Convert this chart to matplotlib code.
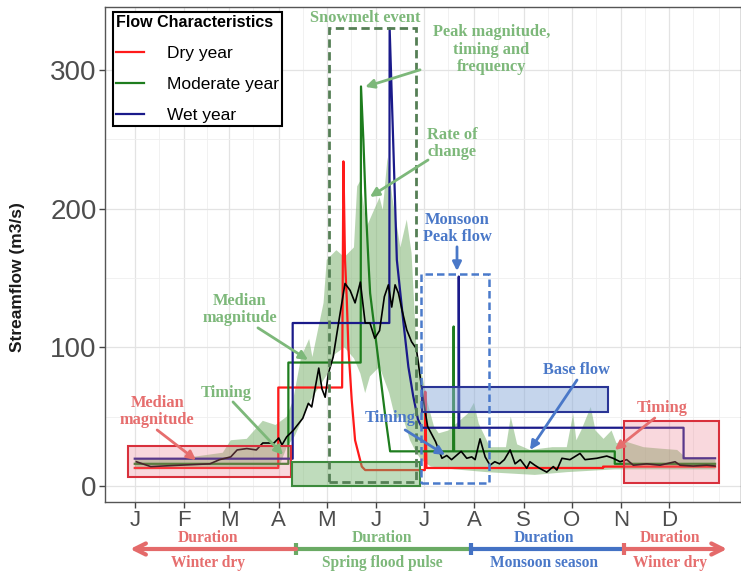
import matplotlib
matplotlib.use('Agg')
import matplotlib.pyplot as plt
import matplotlib.transforms as mtransforms
from matplotlib.patches import Rectangle
from matplotlib.lines import Line2D
import numpy as np

plt.rcParams['font.family'] = ['Liberation Sans', 'DejaVu Sans']

# month axis, day of year
months = ['J', 'F', 'M', 'A', 'M', 'J', 'J', 'A', 'S', 'O', 'N', 'D']
month_start = [0, 31, 59, 90, 120, 151, 181, 212, 243, 273, 304, 334]

# median daily streamflow (black line)
median_day = [1, 10, 28, 47, 53, 60, 64, 70, 76, 80,
              87, 90, 92, 95, 99, 105, 108.5, 110.6, 115, 117,
              119, 121, 124, 128, 131.4, 134.6, 137.7, 141, 144, 147,
              150, 153, 156, 158.5, 160.6, 162.7, 164.8, 167, 170, 173,
              176, 180, 183, 188, 192, 195, 198, 201, 204, 207.5,
              210.6, 212.7, 215.8, 219, 222, 225, 228, 231, 234.6, 237.7,
              241, 245, 247, 250, 253, 257.5, 261.6, 263.8, 267, 272,
              278.3, 281.4, 288.8, 295, 299, 303.3, 307.5, 311.6, 320, 328.3,
              337.7, 340.8, 349, 357.5, 362.7]
median_flow = [17.5, 14, 15, 16, 19, 21, 26, 27, 26, 31,
               31, 34.6, 29.6, 35.5, 40, 48.8, 59.6, 57, 85, 70,
               64, 81, 93, 122, 146, 141, 132, 147, 117.5, 117.5,
               106.5, 112, 136.5, 145, 129, 145, 139, 127, 112.5, 104,
               99, 65, 43, 32, 20, 22, 19, 22, 25, 20,
               21, 19, 34, 21, 15, 17.5, 16, 19, 26, 16,
               19, 12.8, 17.5, 15, 12.8, 10, 14, 11.5, 20, 19,
               23.5, 19, 20, 21.6, 20, 17.5, 19, 15, 16, 15,
               17.5, 15, 14.4, 15, 14.4]

# range of daily flows (green ribbon)
band_hi_day = [0, 30, 55, 60, 70, 80, 88, 95, 99, 104,
               109, 111, 118, 120, 126, 131, 137, 139, 141, 145,
               153, 155, 158, 161, 166, 170, 173, 176, 180, 183,
               187, 190, 196, 208, 212, 215, 222, 232, 235, 239,
               247, 261, 270, 274, 276, 279, 285, 288, 293, 298,
               301, 307, 318, 328, 339, 345, 363]
band_hi = [20, 20, 24, 33, 34, 47, 44, 50, 62, 93,
           106, 93, 132, 163, 170, 165, 172, 216, 220, 187,
           208, 199, 237, 208, 172, 192, 168, 100, 78, 60,
           43, 38, 40, 52, 60, 45, 28, 28, 50, 30,
           26, 28, 28, 52, 33, 40, 57, 40, 34, 40,
           31, 32, 28, 27, 26, 20, 19]
band_lo_day = [0, 90, 95, 100, 110, 120, 125, 131, 137, 141, 144, 147, 153, 159,
               163, 167, 172, 176, 179, 185, 200, 220, 250, 270, 300, 330, 363]
band_lo = [12, 13, 28, 36, 62, 80, 95, 100, 92, 81, 67, 79, 86, 67,
           48, 52, 33, 24, 19, 14, 12, 10, 8, 10, 12, 12, 12]

# dry year
dry_day = [0, 89.7, 89.7, 129.6, 130.4, 131.4, 132.5, 133.5, 135.6, 137.7, 141.9, 144,
           181.3, 181.6, 182.3, 292.7, 292.7, 362.7]
dry_flow = [13, 13, 71, 71, 234, 163, 135, 100, 62, 33, 14, 11.5,
            11.5, 68, 13, 13, 14, 14]

# moderate year
mod_day = [0, 96, 96, 141.2, 141.4, 142.9, 144.4, 146, 147.1, 150.2, 153.3, 156.4, 159.6,
           199, 199.3, 199.6, 300, 300, 362.7]
mod_flow = [16, 16, 89, 89, 288, 249, 201, 163, 139, 110, 81, 52, 25,
            25, 115, 25, 25, 16, 16]

# wet year
wet_day = [0, 98.7, 98.7, 159.1, 159.3, 161.5, 163.8, 167.9, 171, 174, 177, 179.5,
           202.3, 202.5, 202.8, 343, 343, 362.7]
wet_flow = [19.7, 19.7, 117.5, 117.5, 330, 249, 163, 118, 86, 65, 48, 42,
            42, 151, 42, 42, 20, 20]

RED = '#ff1a1a'
GREEN = '#1e7d1e'
NAVY = '#1a1a8a'
T_GREEN = '#7db87a'
T_RED = '#e66e6e'
T_BLUE = '#4a78c8'

fig = plt.figure(figsize=(7.41, 5.75), dpi=100)
ax = fig.add_axes([0.1417, 0.1270, 0.8583, 0.8609])

# ribbon + lines
ax.fill(np.concatenate([band_hi_day, band_lo_day[::-1]]),
        np.concatenate([band_hi, band_lo[::-1]]),
        color='#7fb472', alpha=0.55, lw=0, zorder=1)
ax.plot(dry_day, dry_flow, color=RED, lw=1.6, zorder=3)
ax.plot(mod_day, mod_flow, color=GREEN, lw=1.6, zorder=3)
ax.plot(wet_day, wet_flow, color=NAVY, lw=1.6, zorder=3)
ax.plot(median_day, median_flow, color='black', lw=1.2, zorder=4)


def box(x0, x1, y0, y1, **kw):
    ax.add_patch(Rectangle((x0, y0), x1 - x0, y1 - y0, zorder=5, **kw))


# highlight boxes
box(-4, 97.5, 6.7, 28.8, facecolor=(0.93, 0.5, 0.56, 0.3), edgecolor='#d8303c', lw=1.5)
box(305.8, 365.4, 2.4, 46.9, facecolor=(0.93, 0.5, 0.56, 0.3), edgecolor='#d8303c', lw=1.5)
box(98.1, 178.3, 0, 17, facecolor=(0.45, 0.7, 0.42, 0.45), edgecolor='#3c8a3c', lw=1.5)
box(179.4, 296, 53.6, 71.6, facecolor=(0.55, 0.68, 0.86, 0.5), edgecolor='#2a3596', lw=1.5)
box(121.6, 175.8, 2.7, 330, fill=False, edgecolor='#557f55', lw=2, ls=(0, (3, 1.6)))
box(178.75, 221.6, 2.4, 153, fill=False, edgecolor='#4a7acb', lw=1.8, ls=(0, (3, 1.6)))

# axes styling
ax.set_xlim(-18.6, 378.9)
ax.set_ylim(-11.5, 345.3)
ax.set_xticks(month_start)
ax.set_xticklabels(months)
ax.set_xticks([15, 45, 74, 105, 135, 166, 196, 227, 258, 288, 319, 349, 365], minor=True)
ax.set_yticks([0, 100, 200, 300])
ax.set_yticks([50, 150, 250], minor=True)
ax.grid(which='major', color='#e3e3e3', lw=0.9, zorder=0)
ax.grid(which='minor', color='#efefef', lw=0.6, zorder=0)
ax.set_axisbelow(True)
ax.tick_params(which='major', length=4, width=1, color='#444444', labelcolor='#4d4d4d')
ax.tick_params(axis='x', labelsize=16, pad=2)
ax.tick_params(axis='y', labelsize=20, pad=2)
ax.tick_params(which='minor', length=0)
for s in ax.spines.values():
    s.set_color('#555555')
    s.set_linewidth(1.0)

fig.text(18 / 741, 1 - 277 / 575, 'Streamflow (m3/s)', rotation=90, ha='center', va='center',
         fontsize=12.5, fontweight='bold', color='#1a1a1a')

# legend
handles = [Line2D([], [], color=RED, lw=1.6), Line2D([], [], color=GREEN, lw=1.6),
           Line2D([], [], color=NAVY, lw=1.6)]
leg = ax.legend(handles, ['Dry year', 'Moderate year', 'Wet year'], loc='upper left',
                bbox_to_anchor=(0.0126, 0.99), borderaxespad=0, title='Flow Characteristics',
                fontsize=12.5, title_fontproperties={'weight': 'bold', 'size': 11.5},
                alignment='left', handlelength=1.6, handletextpad=1.3, labelspacing=0.9,
                borderpad=0.2, fancybox=False, framealpha=1, edgecolor='black')
leg.get_frame().set_linewidth(1.5)
leg.set_zorder(10)

# annotations inside the panel
serif = dict(family=['Liberation Serif', 'DejaVu Serif'], fontweight='bold', fontsize=11.8)


def note(txt, xy, xytext, color, tail=None):
    ax.text(xytext[0], xytext[1], txt, color=color, ha='center', va='center',
            linespacing=1.1, zorder=8, **serif)
    if xy is not None:
        ax.annotate('', xy=xy, xytext=tail, zorder=8,
                    arrowprops=dict(arrowstyle='-|>', color=color, lw=2, mutation_scale=13,
                                    shrinkA=0, shrinkB=0))


note('Snowmelt event', None, (144, 337.5), T_GREEN)
note('Peak magnitude,\ntiming and\nfrequency', (144, 287.7), (223, 314.5), T_GREEN, (178.3, 300))
note('Rate of\nchange', (147, 208.4), (198.3, 247), T_GREEN, (183.3, 235))
note('Monsoon\nPeak flow', (201.4, 155), (201.4, 185.5), T_BLUE, (201.4, 172.4))
note('Median\nmagnitude', (108.3, 90.9), (65.8, 127), T_GREEN, (77, 114))
note('Timing', (92.7, 22.4), (57, 67), T_GREEN, (61.4, 60.6))
note('Median\nmagnitude', (38.3, 18.7), (14, 54), T_RED, (14, 40.4))
note('Timing', (194, 22.4), (159.6, 49), T_BLUE, (169, 40.4))
note('Base flow', (247, 26), (276.4, 83.6), T_BLUE, (276.4, 76.4))
note('Timing', (300, 26), (329.6, 56.2), T_RED, (325, 49))

# season bar below the axis
trans = mtransforms.blended_transform_factory(ax.transData, fig.transFigure)
yb = 1 - 549 / 575
yd = 1 - 538.5 / 575
ys = 1 - 563 / 575
B_RED = '#e46a6a'
B_GREEN = '#6aaa64'
B_BLUE = '#4472c4'
ax.annotate('', xy=(-2.9, yb), xytext=(100.8, yb), xycoords=trans, textcoords=trans,
            annotation_clip=False,
            arrowprops=dict(arrowstyle='->', color=B_RED, lw=3, mutation_scale=20,
                            shrinkA=0, shrinkB=0))
ax.annotate('', xy=(370.2, yb), xytext=(305.8, yb), xycoords=trans, textcoords=trans,
            annotation_clip=False,
            arrowprops=dict(arrowstyle='->', color=B_RED, lw=3, mutation_scale=20,
                            shrinkA=0, shrinkB=0))
ax.plot([100.8, 210.2], [yb, yb], transform=trans, color=B_GREEN, lw=3, clip_on=False)
ax.plot([210.2, 305.8], [yb, yb], transform=trans, color=B_BLUE, lw=3, clip_on=False)
for xm, c in [(100.8, B_GREEN), (210.2, B_BLUE), (305.8, B_RED)]:
    ax.plot([xm], [yb], transform=trans, marker='|', ms=9, mew=3, color=c, clip_on=False)

bar_font = dict(serif, fontsize=11.2)
for xc, c, lab in [(45.8, T_RED, 'Winter dry'), (154.6, T_GREEN, 'Spring flood pulse'),
                   (256, T_BLUE, 'Monsoon season'), (334.6, T_RED, 'Winter dry')]:
    ax.text(xc, yd, 'Duration', transform=trans, color=c, ha='center', va='center', **bar_font)
    ax.text(xc, ys, lab, transform=trans, color=c, ha='center', va='center', **bar_font)

fig.savefig('out.png', dpi=100)
